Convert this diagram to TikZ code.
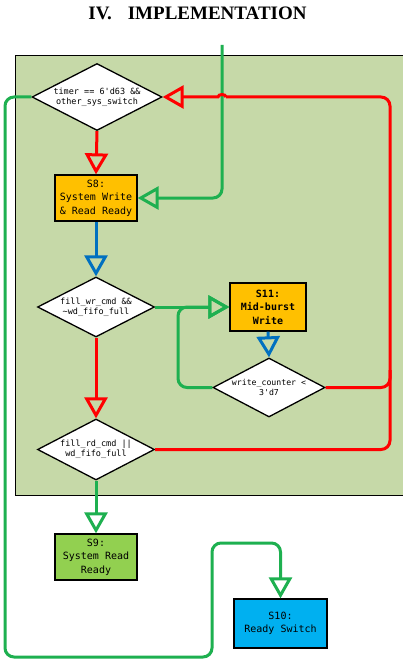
\documentclass[tikz,border=0pt]{standalone}
\usepackage{fontspec}
\setmainfont{Liberation Serif}
\setmonofont{DejaVu Sans Mono}
\usetikzlibrary{arrows.meta,shapes.geometric}

\definecolor{panel}{RGB}{198,217,168}
\definecolor{stateorange}{RGB}{255,192,0}
\definecolor{stategreen}{RGB}{146,208,80}
\definecolor{stateblue}{RGB}{0,176,240}
\definecolor{wiregreen}{RGB}{30,176,80}
\definecolor{wirered}{RGB}{255,0,0}
\definecolor{wireblue}{RGB}{0,112,192}

\begin{document}
\begin{tikzpicture}[x=1pt,y=-1pt,
  wire/.style={line width=3pt, rounded corners=9pt},
  tip/.style={-{Triangle[open,length=21pt,width=23pt]}},
  flow/.style={wire, tip},
  gflow/.style={flow, draw=wiregreen},
  rflow/.style={flow, draw=wirered},
  bflow/.style={flow, draw=wireblue},
  state/.style={draw=black, line width=1.3pt, align=center, inner sep=0pt,
    font=\ttfamily\fontsize{10}{13.5}\selectfont},
  test/.style={diamond, aspect=1.95, draw=black, fill=white, line width=1.3pt,
    align=center, inner sep=0pt, font=\ttfamily\fontsize{8.5}{10}\selectfont}
]
\useasboundingbox (0,0) rectangle (403,671);
\fill[white] (0,0) rectangle (403,671);

% heading
\node (title) at (197.5,13.5) {\fontsize{19}{22}\selectfont\bfseries IV.\hspace{16pt}IMPLEMENTATION};

% shaded panel holding the write-side states
\draw[fill=panel, line width=1pt] (420,56) -- (15,56) -- (15,495) -- (420,495);

% decisions
\node[test, minimum width=130pt, minimum height=67pt] (d1) at (97,97)
  {timer == 6'd63 \&\&\\other\_sys\_switch};
\node[test, minimum width=117pt, minimum height=60pt] (d2) at (96,307)
  {fill\_wr\_cmd \&\&\\\textasciitilde wd\_fifo\_full};
\node[test, minimum width=112pt, minimum height=59pt,
  font=\ttfamily\fontsize{8.2}{10}\selectfont] (d3) at (269,387.5)
  {write\_counter <\\3'd7};
\node[test, minimum width=117pt, minimum height=61pt] (d4) at (96,449.5)
  {fill\_rd\_cmd ||\\wd\_fifo\_full};

% states
\node[state, fill=stateorange, minimum width=82pt, minimum height=46pt] (s8) at (96,198)
  {S8:\\System Write\\\& Read Ready};
\node[state, fill=stateorange, minimum width=76pt, minimum height=48pt,
  font=\ttfamily\bfseries\fontsize{10}{13.5}\selectfont] (s11) at (268,307)
  {S11:\\Mid-burst\\Write};
\node[state, fill=stategreen, minimum width=82pt, minimum height=46pt] (s9) at (96,557)
  {S9:\\System Read\\Ready};
\node[state, fill=stateblue, minimum width=93pt, minimum height=49pt] (s10) at (280.5,623.5)
  {S10:\\Ready Switch};

% routing points
\coordinate (gtop) at (222,45);
\coordinate (rc) at (390,97);
\coordinate (hopR) at (226,97);
\coordinate (rj) at (390,370);
\coordinate (lp) at (178,307);
\coordinate (gl1) at (5,657);
\coordinate (gl2) at (212,543);

% connectors
\draw[gflow] (gtop) |- (s8.east);
\draw[rflow] (d1.south) -- (s8.north);
\draw[bflow] (s8.south) -- (d2.north);
\draw[gflow] (d2.east) -- (s11.west);
\draw[bflow] (s11.south) -- (d3.north);
\draw[gflow] (d3.west) -| (lp) -- (s11.west);
\draw[rflow] (d2.south) -- (d4.north);
\draw[wire, draw=wirered] (d3.east) -| (rj);
\draw[wire, draw=wirered] (d4.east) -| (rc) -- (hopR);
\draw[line width=3pt, draw=wirered, tip]
  (hopR) arc[start angle=0, end angle=180, x radius=4pt, y radius=2.5pt] -- (d1.east);
\draw[gflow] (d4.south) -- (s9.north);
\draw[gflow] (d1.west) -| (gl1) -| (gl2) -| (s10.north);
\end{tikzpicture}
\end{document}
